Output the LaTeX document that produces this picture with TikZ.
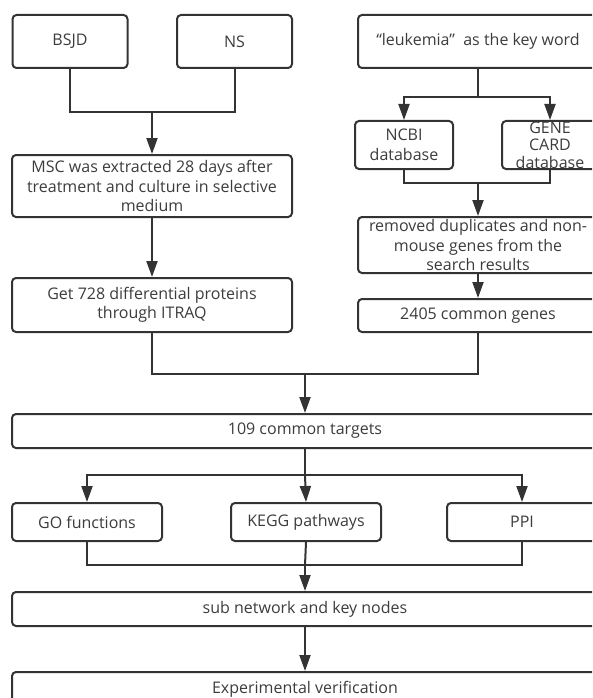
\documentclass[tikz,border=0pt]{standalone}
\usepackage{fontspec}
\setmainfont{Open Sans}
\usepackage{tikz}
\usetikzlibrary{arrows.meta}

\definecolor{linegray}{HTML}{333333}
\definecolor{textgray}{HTML}{3c3c3c}

\begin{document}
\begin{tikzpicture}[x=1pt,y=-1pt,line width=2pt,draw=linegray]
      \tikzstyle{every node}=[font=\fontsize{16}{19.5}\selectfont,text=textgray]
      \tikzstyle{box}=[draw=linegray,line width=2pt,rounded corners=4pt,align=center,inner sep=0pt]
      \tikzstyle{arr}=[-{Triangle[length=16pt,width=11pt]}]

      \useasboundingbox (0,0) rectangle (592,698);
      \clip (0,0) rectangle (592,698);

      \node[box,minimum width=115,minimum height=53] (bsjd) at (70,41.5) {BSJD};
      \node[box,minimum width=115,minimum height=53] (ns) at (234.5,41.5) {NS};
      \node[box,minimum width=240,minimum height=53] (key) at (478,41.5) {“leukemia”\ \ as the key word};

      \node[box,minimum width=280,minimum height=62] (msc) at (152,186) {MSC was extracted 28 days after\\treatment and culture in selective\\medium};
      \node[box,minimum width=280,minimum height=54] (get) at (152,305) {Get 728 differential proteins\\through ITRAQ};

      \node[box,minimum width=98,minimum height=48] (ncbi) at (404,145) {NCBI\\database};
      \node[box,minimum width=96,minimum height=48] (gene) at (550,145) {};
      \node[align=center,font=\fontsize{16}{17.5}\selectfont] (genetext) at (gene) {GENE\\CARD\\database};
      \node[box,minimum width=240,minimum height=56] (removed) at (478,245) {removed duplicates and non-\\mouse genes from the\\search results};
      \node[box,minimum width=240,minimum height=33] (genes) at (478,315.5) {2405 common genes};

      \node[box,minimum width=586,minimum height=34] (targets) at (305,431) {109 common targets};
      \node[box,minimum width=150,minimum height=38] (go) at (87,522) {GO functions};
      \node[box,minimum width=150,minimum height=38] (kegg) at (306,522) {KEGG pathways};
      \node[box,minimum width=150,minimum height=38] (ppi) at (522,522) {PPI};
      \node[box,minimum width=586,minimum height=34] (subnet) at (305,609) {sub network and key nodes};
      \node[box,minimum width=586,minimum height=34] (verify) at (305,689) {Experimental verification};

      \coordinate (j1) at (152,112);
      \coordinate (j2) at (478,97);
      \coordinate (j3) at (478,183);
      \coordinate (j4) at (305,374);
      \coordinate (j5) at (305,475);
      \coordinate (j6) at (305,565);

      \draw (bsjd.south) |- (j1) -| (ns.south);
      \draw[arr] (j1) -- (msc.north);
      \draw[arr] (msc.south) -- (get.north);

      \draw (key.south) -- (j2);
      \draw[arr] (j2) -| (ncbi.north);
      \draw[arr] (j2) -| (gene.north);
      \draw (ncbi.south) |- (j3) -| (gene.south);
      \draw[arr] (j3) -- (removed.north);
      \draw[arr] (removed.south) -- (genes.north);

      \draw (get.south) |- (j4) -| (genes.south);
      \draw[arr] (j4) -- (targets.north);

      \draw (targets.south) -- (j5);
      \draw[arr] (j5) -| (go.north);
      \draw[arr] (j5) -- (kegg.north);
      \draw[arr] (j5) -| (ppi.north);

      \draw (go.south) |- (j6) -| (ppi.south);
      \draw (kegg.south) -- (j6);
      \draw[arr] (j6) -- (subnet.north);
      \draw[arr] (subnet.south) -- (verify.north);

    \end{tikzpicture}
\end{document}
